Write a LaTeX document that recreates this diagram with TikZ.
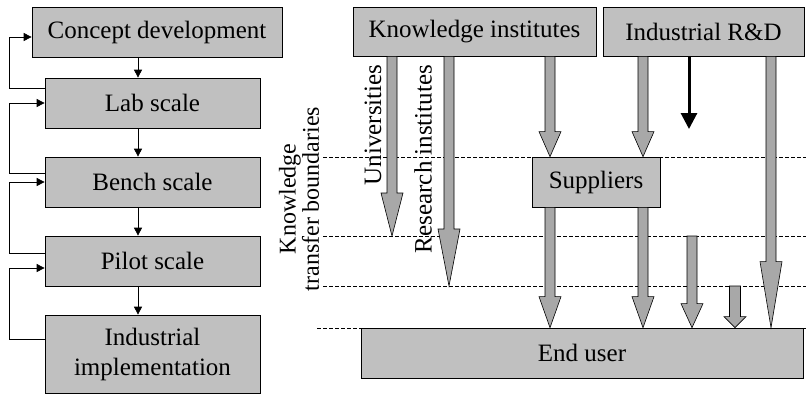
\documentclass[tikz,border=0pt]{standalone}
\usepackage{fontspec}
\setmainfont{Liberation Serif}
\usetikzlibrary{arrows.meta,calc}
\definecolor{boxgray}{RGB}{192,192,192}
\definecolor{arrowgray}{RGB}{168,168,168}
% fat gray arrow: [half shaft width] start, tip, head length
\newcommand{\fatarrow}[4][5]{%
  \filldraw[fat] let \p1=(#2), \p2=(#3) in
    ({\x2-#1pt},\y1) -- ({\x2-#1pt},{\y2+#4pt}) -- ({\x2-11pt},{\y2+#4pt}) -- (\x2,\y2)
    -- ({\x2+11pt},{\y2+#4pt}) -- ({\x2+#1pt},{\y2+#4pt}) -- ({\x2+#1pt},\y1) -- cycle;}
\begin{document}
\begin{tikzpicture}[x=1pt,y=-1pt,
  fat/.style={draw, fill=arrowgray, line width=0.6pt},
  boundary/.style={dash pattern=on 4pt off 2pt, line width=0.5pt},
  link/.style={-{Triangle[length=8pt,width=8pt]}, line width=0.7pt}]
\useasboundingbox (0,0) rectangle (806,394);
% knowledge transfer boundaries
\draw[boundary] (323,157) -- (806,157);
\draw[boundary] (323,236) -- (806,236);
\draw[boundary] (323,286) -- (806,286);
\draw[boundary] (317,328) -- (806,328);
\begin{scope}[every node/.style = {draw, fill=boxgray, line width=0.7pt, inner sep=0pt,
    font=\fontsize{25}{30}\selectfont, align=center, minimum height=50pt}]
\node[minimum width=250pt] (concept) at (157,32) {Concept development};
\node[minimum width=215pt] (lab) at (152.5,103) {Lab scale};
\node[minimum width=215pt] (bench) at (152.5,182) {Bench scale};
\node[minimum width=215pt] (pilot) at (152.5,261) {Pilot scale};
\node[minimum width=215pt, minimum height=78pt] (indimp) at (152.5,354) {Industrial\\implementation};
\node[minimum width=243pt, minimum height=49pt] (know) at (474.5,31.5) {Knowledge institutes};
\node[minimum width=201pt, minimum height=49pt] (rd) at (703.5,31.5) {Industrial R\&D};
\node[minimum width=128pt] (supp) at (596,182) {Suppliers};
\node[minimum width=442pt] (enduser) at (582,353) {End user};
\end{scope}
\begin{scope}[every node/.style = {font=\fontsize{25}{23}\selectfont, rotate=90, align=center, inner sep=0pt}]
\node (univ) at (373,125) {Universities};
\node (resinst) at (423,159) {Research institutes};
\node[font=\fontsize{24}{22}\selectfont] (ktb) at (299,199) {Knowledge\\transfer boundaries};
\end{scope}
% development chain
\coordinate (stem) at (138,0);
\draw[link] (concept.south -| stem) -- (lab.north -| stem);
\draw[link] (lab.south -| stem) -- (bench.north -| stem);
\draw[link] (bench.south -| stem) -- (pilot.north -| stem);
\draw[link] (pilot.south -| stem) -- (indimp.north -| stem);
% feedback loops
\draw[link] ([yshift=15pt]lab.west) -- ++(-35,0) |- ([yshift=-5pt]concept.west);
\draw[link] ([yshift=9pt]bench.west) -- ++(-35,0) |- (lab.west);
\draw[link] ([yshift=8pt]pilot.west) -- ++(-35,0) |- (bench.west);
\draw[link] ([yshift=15pt]indimp.west) -- ++(-35,0) |- ([yshift=-7pt]pilot.west);
% knowledge flows
\coordinate (univtip) at (392,236);
\coordinate (restip) at (449,286);
\coordinate (kscol) at (550,0);
\coordinate (rscol) at (643,0);
\coordinate (rdtip) at (689,129);
\coordinate (b2top) at (692,236);
\coordinate (b3top) at (735,286);
\coordinate (rdcol) at (771,0);
\fatarrow{know.south -| univtip}{univtip}{43}
\fatarrow{know.south -| restip}{restip}{57}
\fatarrow{know.south -| kscol}{supp.north -| kscol}{25}
\fatarrow{rd.south -| rscol}{supp.north -| rscol}{25}
\fatarrow{supp.south -| kscol}{enduser.north -| kscol}{31}
\fatarrow{supp.south -| rscol}{enduser.north -| rscol}{31}
\fatarrow{b2top}{enduser.north -| b2top}{24}
\fatarrow[5.5]{b3top}{enduser.north -| b3top}{11}
\fatarrow{rd.south -| rdcol}{enduser.north -| rdcol}{66}
\draw[line width=3pt, -{Triangle[length=16pt,width=16pt]}] (rd.south -| rdtip) -- (rdtip);
\end{tikzpicture}
\end{document}
